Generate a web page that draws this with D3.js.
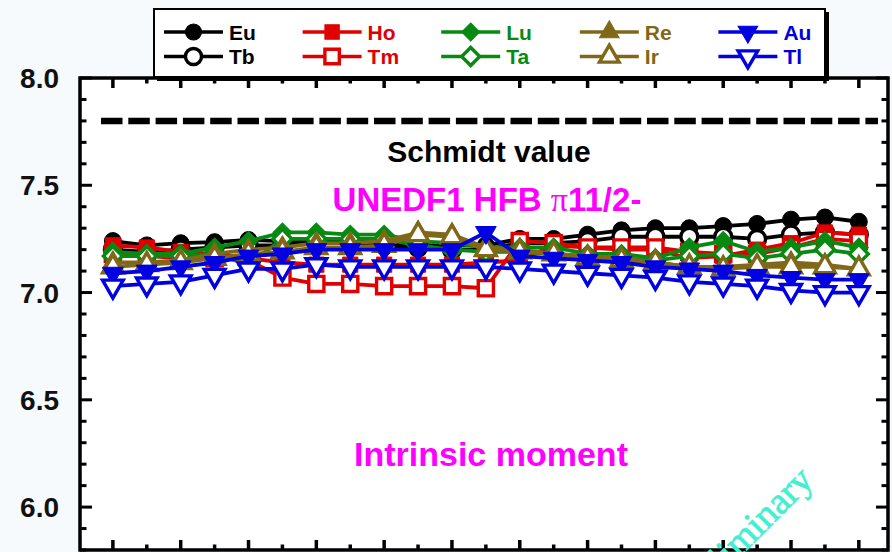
<!DOCTYPE html>
<html>
<head>
<meta charset="utf-8">
<script src="https://cdn.jsdelivr.net/npm/d3@7"></script>
<style>
  html, body { margin: 0; padding: 0; background: #f6fafc; overflow: hidden; }
  svg { display: block; }
</style>
</head>
<body>
<svg id="chart" width="892" height="552"></svg>
<script>
// Positions along the isotope chain (one point per nucleus, 23 in all)
const chainIndex = [0, 1, 2, 3, 4, 5, 6, 7, 8, 9, 10, 11, 12, 13, 14, 15, 16, 17, 18, 19, 20, 21, 22];

// Magnetic moments (nuclear magnetons) for each element
const euValues = [7.24, 7.22, 7.23, 7.235, 7.245, 7.24, 7.24, 7.24, 7.23, 7.22, 7.22, 7.22, 7.25, 7.25, 7.27, 7.29, 7.30, 7.30, 7.31, 7.32, 7.34, 7.35, 7.33];
const tbValues = [7.20, 7.19, 7.20, 7.21, 7.22, 7.22, 7.23, 7.23, 7.22, 7.21, 7.20, 7.20, 7.23, 7.23, 7.24, 7.26, 7.26, 7.26, 7.26, 7.25, 7.27, 7.28, 7.27];
const hoValues = [7.22, 7.21, 7.19, 7.18, 7.16, 7.14, 7.13, 7.13, 7.13, 7.13, 7.13, 7.14, 7.15, 7.22, 7.21, 7.20, 7.20, 7.16, 7.17, 7.20, 7.23, 7.28, 7.27];
const tmValues = [7.18, 7.17, 7.16, 7.16, 7.15, 7.07, 7.04, 7.04, 7.03, 7.03, 7.03, 7.02, 7.24, 7.23, 7.21, 7.21, 7.21, 7.19, 7.18, 7.18, 7.21, 7.25, 7.24];
const luValues = [7.19, 7.18, 7.18, 7.21, 7.24, 7.28, 7.28, 7.27, 7.27, 7.24, 7.23, 7.21, 7.21, 7.21, 7.18, 7.18, 7.16, 7.21, 7.24, 7.19, 7.21, 7.24, 7.21];
const taValues = [7.17, 7.17, 7.17, 7.18, 7.13, 7.25, 7.25, 7.25, 7.25, 7.22, 7.20, 7.19, 7.19, 7.18, 7.17, 7.16, 7.15, 7.17, 7.18, 7.16, 7.18, 7.20, 7.18];
const reValues = [7.14, 7.14, 7.15, 7.18, 7.20, 7.21, 7.23, 7.23, 7.24, 7.28, 7.27, 7.21, 7.20, 7.18, 7.17, 7.16, 7.14, 7.12, 7.12, 7.13, 7.14, 7.13, 7.11];
const irValues = [7.12, 7.13, 7.14, 7.16, 7.18, 7.19, 7.21, 7.21, 7.22, 7.27, 7.26, 7.20, 7.19, 7.18, 7.16, 7.15, 7.14, 7.12, 7.11, 7.12, 7.12, 7.12, 7.11];
const auValues = [7.09, 7.10, 7.12, 7.14, 7.17, 7.18, 7.20, 7.20, 7.20, 7.20, 7.20, 7.28, 7.17, 7.16, 7.15, 7.14, 7.12, 7.11, 7.10, 7.08, 7.07, 7.06, 7.06];
const tlValues = [7.03, 7.04, 7.05, 7.08, 7.11, 7.11, 7.13, 7.12, 7.12, 7.12, 7.12, 7.12, 7.11, 7.10, 7.09, 7.08, 7.07, 7.05, 7.04, 7.03, 7.01, 7.00, 7.00];

const seriesNames = ["Eu", "Tb", "Ho", "Tm", "Lu", "Ta", "Re", "Ir", "Au", "Tl"];
const seriesValues = [euValues, tbValues, hoValues, tmValues, luValues, taValues, reValues, irValues, auValues, tlValues];

const schmidtValue = 7.8;
const yTickValues = [6.0, 6.5, 7.0, 7.5, 8.0];
const yTickLabels = ["6.0", "6.5", "7.0", "7.5", "8.0"];

// Styling per series: colour, marker shape, filled or open
const palette = { black: "#000000", red: "#e00000", green: "#088a12", olive: "#806818", blue: "#0000e0" };
const seriesStyle = [
  { color: palette.black, shape: "circle",  filled: true  },
  { color: palette.black, shape: "circle",  filled: false },
  { color: palette.red,   shape: "square",  filled: true  },
  { color: palette.red,   shape: "square",  filled: false },
  { color: palette.green, shape: "diamond", filled: true  },
  { color: palette.green, shape: "diamond", filled: false },
  { color: palette.olive, shape: "up",      filled: true  },
  { color: palette.olive, shape: "up",      filled: false },
  { color: palette.blue,  shape: "down",    filled: true  },
  { color: palette.blue,  shape: "down",    filled: false }
];

const plot = { left: 80, right: 888, top: 78, bottom: 550 };

const svg = d3.select("#chart");

const x = d3.scaleLinear().domain([-0.97, 22.86]).range([plot.left, plot.right]);
const y = d3.scaleLinear().domain([5.8, 8.0]).range([plot.bottom, plot.top]);

// plot background
svg.append("rect")
  .attr("x", plot.left).attr("y", plot.top)
  .attr("width", plot.right - plot.left).attr("height", plot.bottom - plot.top)
  .attr("fill", "#ffffff");

// Schmidt limit
svg.append("line")
  .attr("x1", 101).attr("x2", 878)
  .attr("y1", y(schmidtValue)).attr("y2", y(schmidtValue))
  .attr("stroke", "#000").attr("stroke-width", 6.5)
  .attr("stroke-dasharray", "21.5,5.8");

const boldFont = "'Liberation Sans', Arial, sans-serif";

svg.append("text")
  .attr("x", 489).attr("y", 162)
  .attr("text-anchor", "middle")
  .attr("font-family", boldFont).attr("font-weight", "bold").attr("font-size", 30)
  .attr("fill", "#000")
  .text("Schmidt value");

const modelLabel = svg.append("text")
  .attr("x", 487).attr("y", 211)
  .attr("text-anchor", "middle")
  .attr("font-family", boldFont).attr("font-weight", "bold").attr("font-size", 33)
  .attr("fill", "#ff00ff");
modelLabel.append("tspan").text("UNEDF1 HFB ");
modelLabel.append("tspan").attr("font-family", "'Liberation Serif', 'DejaVu Serif', serif").attr("font-weight", "normal").attr("font-size", 34).text("π");
modelLabel.append("tspan").text("11/2-");

svg.append("text")
  .attr("x", 491).attr("y", 466)
  .attr("text-anchor", "middle")
  .attr("font-family", boldFont).attr("font-weight", "bold").attr("font-size", 34)
  .attr("fill", "#ff00ff")
  .text("Intrinsic moment");

// marker generator
function markerPath(shape) {
  switch (shape) {
    case "circle":  return d3.symbol().type(d3.symbolCircle).size(225)();
    case "square":  return d3.symbol().type(d3.symbolSquare).size(230)();
    case "diamond": return d3.symbol().type(d3.symbolSquare).size(180)();
    case "up":
    case "down":    return d3.symbol().type(d3.symbolTriangle).size(185)();
  }
}
function markerRotation(shape) {
  if (shape === "diamond") return 45;
  if (shape === "down") return 180;
  return 0;
}
function drawMarker(g, cx, cy, style, scale = 1) {
  g.append("path")
    .attr("d", markerPath(style.shape))
    .attr("transform", `translate(${cx},${cy}) rotate(${markerRotation(style.shape)}) scale(${scale})`)
    .attr("fill", style.filled ? style.color : "#ffffff")
    .attr("stroke", style.color)
    .attr("stroke-width", (style.filled ? 1 : 3.4) / scale)
    .attr("stroke-linejoin", "miter");
}

// series lines and markers
const line = d3.line().x(d => x(d[0])).y(d => y(d[1]));
seriesValues.forEach((vals, si) => {
  const style = seriesStyle[si];
  const pts = chainIndex.map((c, i) => [c, vals[i]]);
  const g = svg.append("g").attr("class", "series-" + seriesNames[si]);
  g.append("path")
    .attr("d", line(pts))
    .attr("fill", "none")
    .attr("stroke", style.color)
    .attr("stroke-width", 3.8)
    .attr("stroke-linejoin", "round");
  pts.forEach(p => drawMarker(g, x(p[0]), y(p[1]), style));
});

// axes: frame with inward ticks on all four sides
const yMajor = yTickValues;
const yMinor = d3.range(58, 81).map(v => v / 10).filter(v => !yMajor.some(m => Math.abs(m - v) < 1e-6));
const xMajor = chainIndex.filter(c => c % 2 === 0);
const xMinor = chainIndex.filter(c => c % 2 === 1);

const axisG = svg.append("g").attr("stroke", "#000").attr("stroke-width", 3);

function yTicks(xPos, dir) {
  yMajor.forEach(v => axisG.append("line").attr("x1", xPos).attr("x2", xPos + dir * 12).attr("y1", y(v)).attr("y2", y(v)));
  yMinor.forEach(v => axisG.append("line").attr("x1", xPos).attr("x2", xPos + dir * 6.5).attr("y1", y(v)).attr("y2", y(v)));
}
function xTicks(yPos, dir) {
  xMajor.forEach(c => axisG.append("line").attr("x1", x(c)).attr("x2", x(c)).attr("y1", yPos).attr("y2", yPos + dir * 10)
    .attr("stroke-width", 3.5));
  xMinor.forEach(c => axisG.append("line").attr("x1", x(c)).attr("x2", x(c)).attr("y1", yPos).attr("y2", yPos + dir * 5.5)
    .attr("stroke-width", 3.5));
}
yTicks(plot.left, 1);
yTicks(plot.right, -1);
xTicks(plot.bottom, -1);
xTicks(plot.top, 1);

axisG.append("rect")
  .attr("x", plot.left).attr("y", plot.top)
  .attr("width", plot.right - plot.left).attr("height", plot.bottom - plot.top)
  .attr("fill", "none").attr("stroke-width", 3.5);

// y tick labels
svg.append("g").selectAll("text")
  .data(yTickValues)
  .join("text")
  .attr("x", 59)
  .attr("y", d => y(d) + 10)
  .attr("text-anchor", "end")
  .attr("font-family", boldFont).attr("font-weight", "bold").attr("font-size", 28)
  .attr("fill", "#111")
  .text((d, i) => yTickLabels[i]);

// legend box with drop shadow
const legend = svg.append("g");
legend.append("rect").attr("x", 157).attr("y", 12).attr("width", 672).attr("height", 69).attr("fill", "#000");
legend.append("rect").attr("x", 154).attr("y", 9).attr("width", 671).attr("height", 68)
  .attr("fill", "#ffffff").attr("stroke", "#000").attr("stroke-width", 2);

seriesNames.forEach((name, si) => {
  const col = Math.floor(si / 2), row = si % 2;
  const x0 = 164 + col * 138.6;
  const yy = 32 + row * 24.5;
  const style = seriesStyle[si];
  legend.append("line")
    .attr("x1", x0).attr("x2", x0 + 59).attr("y1", yy).attr("y2", yy)
    .attr("stroke", style.color).attr("stroke-width", 3.5);
  drawMarker(legend, x0 + 29.5, yy, style, 0.95);
  legend.append("text")
    .attr("x", x0 + 65).attr("y", yy + 7.5)
    .attr("font-family", boldFont).attr("font-weight", "bold").attr("font-size", 21)
    .attr("fill", style.color)
    .text(name);
});

// watermark
svg.append("text")
  .attr("transform", "translate(815,482) rotate(-45)")
  .attr("text-anchor", "end")
  .attr("font-family", "'Liberation Serif', 'Times New Roman', serif")
  .attr("font-size", 38)
  .attr("fill", "#40f0d0")
  .attr("stroke", "#40f0d0").attr("stroke-width", 0.7)
  .text("Preliminary");
</script>
</body>
</html>
